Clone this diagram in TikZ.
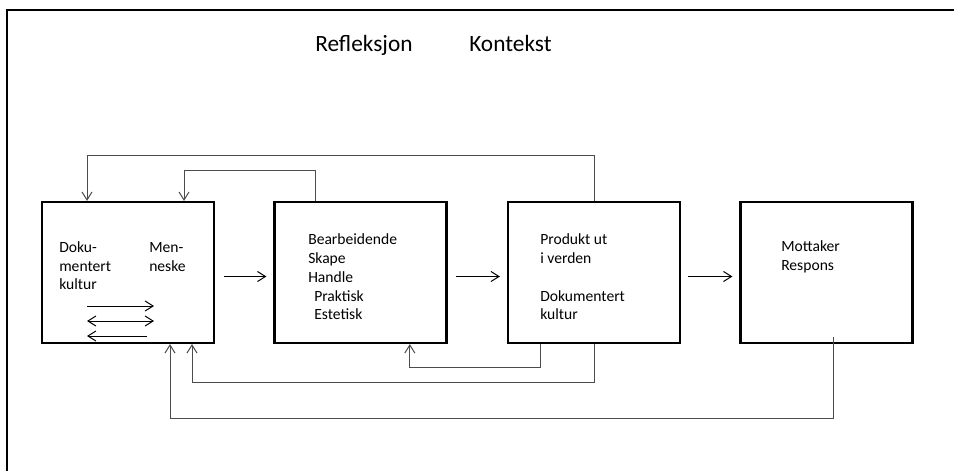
\documentclass[tikz,border=0pt]{standalone}
\usepackage{fontspec}
\setmainfont{Carlito}
\usetikzlibrary{arrows.meta}
\begin{document}
\begin{tikzpicture}[x=0.75pt,y=-0.75pt,
  stage/.style={draw=black,line width=1.6pt,minimum width=129pt,minimum height=105.75pt,inner sep=0pt},
  txt/.style={anchor=base west,inner sep=0pt,font=\fontsize{11.7}{14}\selectfont},
  head/.style={anchor=base west,inner sep=0pt,font=\fontsize{17.5}{21}\selectfont},
  flow/.style={draw=black,line width=0.75pt,-{Straight Barb[length=6pt,width=7.5pt]}},
  back/.style={draw=black!70,line width=0.75pt,-{Straight Barb[length=6pt,width=7.5pt]}},
  backline/.style={draw=black!70,line width=0.75pt}]
\useasboundingbox (0,0) rectangle (954,471);
\clip (0,0) rectangle (954,471);
\fill[white] (0,0) rectangle (954,471);

% outer frame, running off the page to the right and bottom
\draw[line width=1.6pt] (7,490) -- (7,10) -- (970,10);

% headings
\node[head] (refl) at (315,51) {Refleksjon};
\node[head] (kont) at (469,51) {Kontekst};

% the four stages
\node[stage] (b1) at (128,272.5) {};
\node[stage] (b2) at (360.5,272.5) {};
\node[stage] (b3) at (594,272.5) {};
\node[stage] (b4) at (826.5,272.5) {};

% stage texts
\node[txt] (t11) at (59,252.5) {Doku-};
\node[txt] (t12) at (59,271) {mentert};
\node[txt] (t13) at (59,289.5) {kultur};
\node[txt] (t14) at (149,252.5) {Men-};
\node[txt] (t15) at (149,271) {neske};

\node[txt] (t21) at (308,244.3) {Bearbeidende};
\node[txt] (t22) at (308,263.2) {Skape};
\node[txt] (t23) at (308,282.1) {Handle};
\node[txt] (t24) at (314,301) {Praktisk};
\node[txt] (t25) at (314,319.9) {Estetisk};

\node[txt] (t31) at (540,244.3) {Produkt ut};
\node[txt] (t32) at (540,263.2) {i verden};
\node[txt] (t33) at (540,301) {Dokumentert};
\node[txt] (t34) at (540,319.9) {kultur};

\node[txt] (t41) at (781,251.7) {Mottaker};
\node[txt] (t42) at (781,270.6) {Respons};

% exchange between documented culture and people
\draw[flow] (87,306) -- (154,306);
\draw[flow,{Straight Barb[length=6pt,width=7.5pt]}-{Straight Barb[length=6pt,width=7.5pt]}] (87,321) -- (154,321);
\draw[flow,{Straight Barb[length=6pt,width=7.5pt]}-] (87,336) -- (147,336);

% forward flow
\draw[flow,shorten <=6.75pt,shorten >=5.25pt] ([yshift=-3pt]b1.east) -- ([yshift=-3pt]b2.west);
\draw[flow,shorten <=6pt,shorten >=5.25pt] ([yshift=-3pt]b2.east) -- ([yshift=-3pt]b3.west);
\draw[flow,shorten <=5.25pt,shorten >=5.25pt] ([yshift=-3pt]b3.east) -- ([yshift=-3pt]b4.west);

% feedback above
\draw[back] (b3.north) -- ++(0,-45) -| ([xshift=-30.75pt]b1.north);
\draw[back] ([xshift=-34pt]b2.north) -- ++(0,-30) -| ([xshift=42pt]b1.north);

% feedback below
\draw[back] ([xshift=-40.5pt]b3.south) -- ++(0,23) -| ([xshift=37pt]b2.south);
\draw[back] (b3.south) -- ++(0,38) -| ([xshift=48pt]b1.south);
\draw[back] ([xshift=5.6pt,yshift=5.25pt]b4.south) -- ++(0,81) -| ([xshift=31.5pt]b1.south);
\end{tikzpicture}
\end{document}
